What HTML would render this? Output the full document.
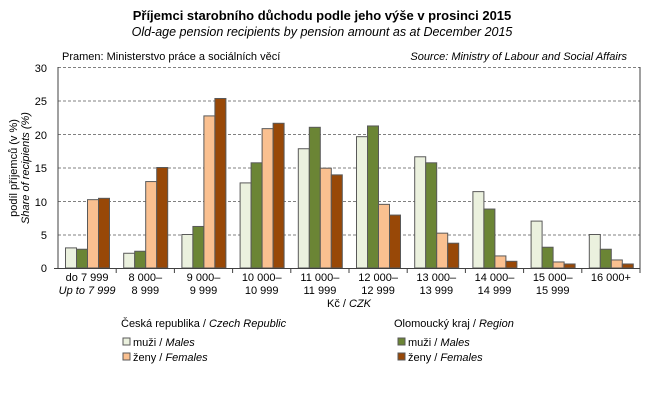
<!DOCTYPE html>
<html><head><meta charset="utf-8"><style>
body{margin:0;background:#fff;}
svg text{font-family:"Liberation Sans",sans-serif;fill:#000;}
</style></head><body>
<svg width="645" height="405" xmlns="http://www.w3.org/2000/svg">
<text x="322" y="20" font-size="13" font-weight="bold" text-anchor="middle">Příjemci starobního důchodu podle jeho výše v prosinci 2015</text>
<text x="322" y="36" font-size="12.5" font-style="italic" text-anchor="middle">Old-age pension recipients by pension amount  as at December 2015</text>
<text x="62" y="60" font-size="11">Pramen: Ministerstvo práce a sociálních věcí</text>
<text x="627" y="60" font-size="11" font-style="italic" text-anchor="end">Source: Ministry of Labour and Social Affairs</text>
<g stroke="#808080" stroke-dasharray="3,2" stroke-width="1">
<line x1="58" x2="640" y1="67.5" y2="67.5"/>
<line x1="58" x2="640" y1="101" y2="101"/>
<line x1="58" x2="640" y1="134.5" y2="134.5"/>
<line x1="58" x2="640" y1="168" y2="168"/>
<line x1="58" x2="640" y1="201.5" y2="201.5"/>
<line x1="58" x2="640" y1="235" y2="235"/>
</g>
<g font-size="11" text-anchor="end">
<text x="47" y="72">30</text><text x="47" y="105">25</text><text x="47" y="139">20</text>
<text x="47" y="172">15</text><text x="47" y="206">10</text><text x="47" y="239">5</text><text x="47" y="272">0</text>
</g>
<text transform="translate(17,168) rotate(-90)" font-size="11" text-anchor="middle">podíl příjemců (v %)</text>
<text transform="translate(29,168) rotate(-90)" font-size="11" font-style="italic" text-anchor="middle">Share of recipients (%)</text>
<g id="bars" stroke="#595959" stroke-width="1"></g>
<line x1="58" x2="58" y1="67" y2="268" stroke="#404040"/>
<line x1="640" x2="640" y1="67" y2="268" stroke="#404040"/>
<line x1="54" x2="640" y1="268.5" y2="268.5" stroke="#404040"/>
<g id="ticks" stroke="#404040"></g>
<g id="labels" font-size="11" text-anchor="middle"></g>
<text x="349" y="307" font-size="11" text-anchor="middle">Kč / <tspan font-style="italic">CZK</tspan></text>
<text x="121" y="327" font-size="11">Česká republika  /  <tspan font-style="italic">Czech Republic</tspan></text>
<text x="394" y="327" font-size="11">Olomoucký kraj  /  <tspan font-style="italic">Region</tspan></text>
<rect x="123" y="338" width="7" height="7" fill="#ebf1de" stroke="#595959"/>
<text x="133" y="346" font-size="11">muži /   <tspan font-style="italic">Males</tspan></text>
<rect x="123" y="353" width="7" height="7" fill="#fac090" stroke="#595959"/>
<text x="133" y="361" font-size="11">ženy /  <tspan font-style="italic">Females</tspan></text>
<rect x="398" y="338" width="7" height="7" fill="#6b8535" stroke="#595959"/>
<text x="408" y="346" font-size="11">muži /   <tspan font-style="italic">Males</tspan></text>
<rect x="398" y="353" width="7" height="7" fill="#984807" stroke="#595959"/>
<text x="408" y="361" font-size="11">ženy /  <tspan font-style="italic">Females</tspan></text>
</svg>
<script>
var d=[[3.0,2.8,10.2,10.4],[2.2,2.5,12.9,15.0],[5.0,6.2,22.7,25.3],[12.7,15.7,20.8,21.6],[17.8,21.0,14.9,13.9],[19.6,21.2,9.5,7.9],[16.6,15.7,5.2,3.7],[11.4,8.8,1.8,1.0],[7.0,3.1,0.9,0.6],[5.0,2.8,1.2,0.6]];
var c=["#ebf1de","#6b8535","#fac090","#984807"];
var L1=["do 7 999","8 000–","9 000–","10 000–","11 000–","12 000–","13 000–","14 000–","15 000–","16 000+"];
var L2=["Up to 7 999","8 999","9 999","10 999","11 999","12 999","13 999","14 999","15 999",""];
var ns="http://www.w3.org/2000/svg",b=document.getElementById("bars"),t=document.getElementById("ticks"),lb=document.getElementById("labels");
var gw=58.2,s=201/30;
for(var i=0;i<10;i++){var x0=58+i*gw;
for(var j=0;j<4;j++){var r=document.createElementNS(ns,"rect"),h=d[i][j]*s;
r.setAttribute("x",x0+7.5+j*11);r.setAttribute("y",268-h);r.setAttribute("width",11);r.setAttribute("height",h);r.setAttribute("fill",c[j]);b.appendChild(r);}
var l=document.createElementNS(ns,"line");l.setAttribute("x1",x0+gw);l.setAttribute("x2",x0+gw);l.setAttribute("y1",268);l.setAttribute("y2",273);t.appendChild(l);
var a=document.createElementNS(ns,"text");a.setAttribute("x",x0+gw/2);a.setAttribute("y",281);a.textContent=L1[i];lb.appendChild(a);
if(L2[i]){var e=document.createElementNS(ns,"text");e.setAttribute("x",x0+gw/2);e.setAttribute("y",294);e.textContent=L2[i];if(i==0)e.setAttribute("font-style","italic");lb.appendChild(e);}}
</script>
</body></html>
